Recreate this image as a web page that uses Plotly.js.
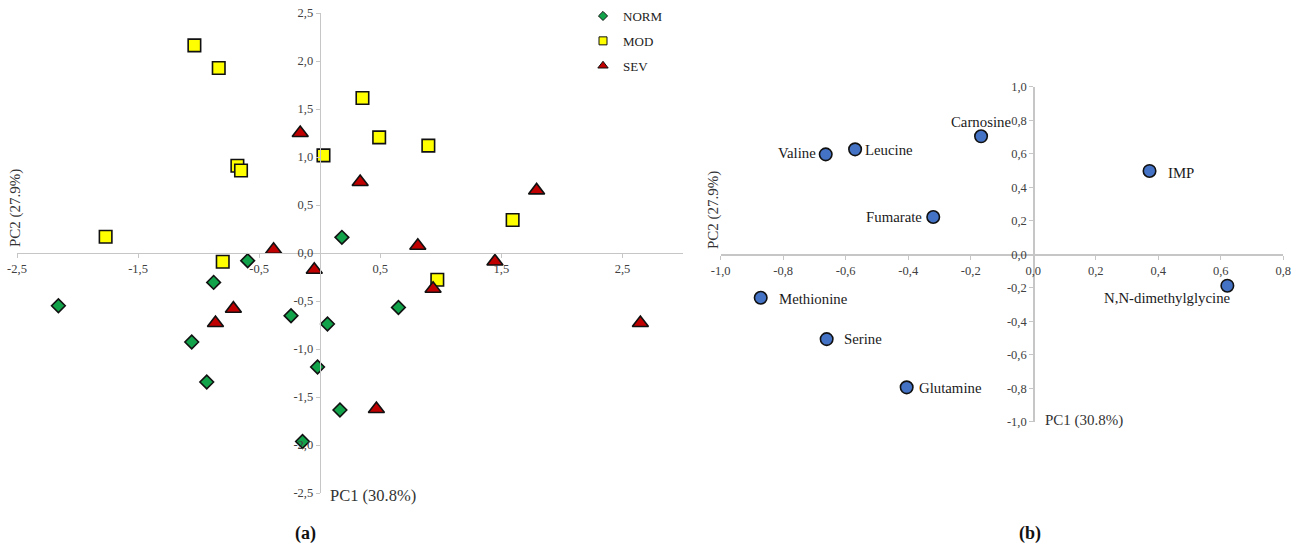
<!DOCTYPE html>
<html>
<head>
<meta charset="utf-8">
<script src="https://cdn.plot.ly/plotly-3.0.1.min.js"></script>
<style>
html,body{margin:0;padding:0;background:#fff;}
#chart{width:1298px;height:546px;}
</style>
</head>
<body>
<div id="chart"></div>
<script>
// ---------- Panel (a): PCA scores ----------
const normX = [0.183, -0.595, -0.876, -2.158, -0.237, 0.064, -1.057, -0.933, -0.018, 0.167, -0.142, 0.650];
const normY = [0.163, -0.080, -0.306, -0.549, -0.653, -0.740, -0.927, -1.344, -1.188, -1.635, -1.963, -0.567];

const modX = [-1.035, -0.834, -0.680, -0.650, -1.768, -0.801, 0.353, 0.491, 0.031, 0.897, 1.593, 0.971];
const modY = [2.163, 1.927, 0.909, 0.860, 0.170, -0.091, 1.615, 1.204, 1.017, 1.118, 0.344, -0.278];

const sevX = [-0.161, -0.381, 0.334, 1.791, 0.810, 1.447, -0.045, -0.713, -0.861, 0.936, 2.648, 0.468];
const sevY = [1.250, 0.034, 0.740, 0.652, 0.076, -0.088, -0.174, -0.580, -0.729, -0.372, -0.729, -1.625];

const groupNames = ['NORM', 'MOD', 'SEV'];

// ---------- Panel (b): loadings ----------
const metNames = ['Valine', 'Leucine', 'Carnosine', 'Fumarate', 'IMP', 'Methionine', 'Serine', 'Glutamine', 'N,N-dimethylglycine'];
const metX = [-0.664, -0.570, -0.167, -0.320, 0.372, -0.872, -0.661, -0.405, 0.621];
const metY = [0.596, 0.626, 0.704, 0.222, 0.497, -0.260, -0.507, -0.795, -0.188];

// ---------- Tick labels ----------
const aXTicks = [-2.5, -1.5, -0.5, 0.5, 1.5, 2.5];
const aXTickText = ['-2,5', '-1,5', '-0,5', '0,5', '1,5', '2,5'];
const aYTicks = [-2.5, -2.0, -1.5, -1.0, -0.5, 0.0, 0.5, 1.0, 1.5, 2.0, 2.5];
const aYTickText = ['-2,5', '-2,0', '-1,5', '-1,0', '-0,5', '0,0', '0,5', '1,0', '1,5', '2,0', '2,5'];
const bXTicks = [-1.0, -0.8, -0.6, -0.4, -0.2, 0.0, 0.2, 0.4, 0.6, 0.8];
const bXTickText = ['-1,0', '-0,8', '-0,6', '-0,4', '-0,2', '0,0', '0,2', '0,4', '0,6', '0,8'];
const bYTicks = [-1.0, -0.8, -0.6, -0.4, -0.2, 0.0, 0.2, 0.4, 0.6, 0.8, 1.0];
const bYTickText = ['-1,0', '-0,8', '-0,6', '-0,4', '-0,2', '0,0', '0,2', '0,4', '0,6', '0,8', '1,0'];

const axisTitleX = 'PC1 (30.8%)';
const axisTitleY = 'PC2 (27.9%)';

// ---------- Styling ----------
const W = 1298, H = 546;
const FONT = "'Liberation Serif', 'Times New Roman', serif";
const green = '#12A34A', yellow = '#FFFF00', red = '#C00000', blue = '#4472C4';
const lineCol = '#c6c6c6', tickTxt = '#404040';

const aXRange = [-2.5, 3.0], aYRange = [-2.5, 2.5];
const bXRange = [-1.0, 0.8], bYRange = [-1.0, 1.0];
const aXDom = [17 / W, 683 / W], aYDom = [1 - 493 / H, 1 - 13 / H];
const bXDom = [720.7 / W, 1283.3 / W], bYDom = [1 - 421.7 / H, 1 - 86.7 / H];

// label placement style for panel (b): anchor and pixel offsets from each marker
const labAnchor = ['right', 'left', 'center', 'right', 'left', 'left', 'left', 'left', 'right'];
const labDX = [-8, 8, 0, -9, 16, 16, 15, 10, 6];
const labDY = [1, -1, 14, 0, -2, -1, 0, -1, -12];

function zeroPos(range, dom) {
  return dom[0] + (0 - range[0]) / (range[1] - range[0]) * (dom[1] - dom[0]);
}

function axis(range, dom, pos, tv, tt) {
  return {
    range: range, domain: dom, anchor: 'free', position: pos,
    tickmode: 'array', tickvals: tv, ticktext: tt,
    showgrid: false, zeroline: false, showline: true,
    linecolor: lineCol, linewidth: 1.3,
    ticks: 'outside', ticklen: 4, tickcolor: lineCol, tickwidth: 1,
    tickfont: {family: FONT, size: 12.5, color: tickTxt},
    automargin: false, fixedrange: true
  };
}

const mline = {color: '#111', width: 1.6};

const traces = [
  {x: normX, y: normY, type: 'scatter', mode: 'markers', xaxis: 'x', yaxis: 'y', showlegend: false,
   marker: {symbol: 'diamond', size: 10.5, color: green, line: mline}},
  {x: modX, y: modY, type: 'scatter', mode: 'markers', xaxis: 'x', yaxis: 'y', showlegend: false,
   marker: {symbol: 'square', size: 12.5, color: yellow, line: mline}},
  {x: sevX, y: sevY, type: 'scatter', mode: 'markers', xaxis: 'x', yaxis: 'y', showlegend: false,
   marker: {symbol: 'triangle-up', size: 14, color: red, line: mline}},
  // legend entries (small symbols as in the original)
  {x: [null], y: [null], type: 'scatter', mode: 'markers', xaxis: 'x', yaxis: 'y', name: groupNames[0], legendgroup: 'g1',
   marker: {symbol: 'diamond', size: 7, color: green, line: {color: '#111', width: 1}}},
  {x: [null], y: [null], type: 'scatter', mode: 'markers', xaxis: 'x', yaxis: 'y', name: groupNames[1], legendgroup: 'g2',
   marker: {symbol: 'square', size: 8, color: yellow, line: {color: '#111', width: 1}}},
  {x: [null], y: [null], type: 'scatter', mode: 'markers', xaxis: 'x', yaxis: 'y', name: groupNames[2], legendgroup: 'g3',
   marker: {symbol: 'triangle-up', size: 9, color: red, line: {color: '#111', width: 1}}},
  {x: metX, y: metY, type: 'scatter', mode: 'markers', xaxis: 'x2', yaxis: 'y2', showlegend: false,
   marker: {symbol: 'circle', size: 12.5, color: blue, line: mline}}
];

const labelAnns = metNames.map((name, i) => ({
  text: name, x: metX[i], y: metY[i], xref: 'x2', yref: 'y2',
  xanchor: labAnchor[i], yanchor: 'middle', xshift: labDX[i], yshift: labDY[i],
  showarrow: false, font: {family: FONT, size: 14.8, color: '#1a1a1a'}
}));

const layout = {
  width: W, height: H,
  margin: {l: 0, r: 0, t: 0, b: 0, pad: 0},
  paper_bgcolor: '#ffffff', plot_bgcolor: 'rgba(0,0,0,0)',
  font: {family: FONT, color: '#222'},
  showlegend: true,
  legend: {x: 583 / W, y: 1 - 1 / H, xanchor: 'left', yanchor: 'top',
           font: {family: FONT, size: 13, color: '#222'}, bgcolor: 'rgba(0,0,0,0)',
           tracegroupgap: 5, itemclick: false, itemdoubleclick: false},
  xaxis: axis(aXRange, aXDom, zeroPos(aYRange, aYDom), aXTicks, aXTickText),
  yaxis: axis(aYRange, aYDom, zeroPos(aXRange, aXDom), aYTicks, aYTickText),
  xaxis2: axis(bXRange, bXDom, zeroPos(bYRange, bYDom), bXTicks, bXTickText),
  yaxis2: axis(bYRange, bYDom, zeroPos(bXRange, bXDom), bYTicks, bYTickText),
  annotations: labelAnns.concat([
    {text: axisTitleX, xref: 'paper', yref: 'paper', x: 328 / W, y: 1 - 495 / H, xanchor: 'left', yanchor: 'middle',
     showarrow: false, font: {family: FONT, size: 16.5, color: '#333'}},
    {text: axisTitleY, xref: 'paper', yref: 'paper', x: 15 / W, y: 1 - 208 / H, xanchor: 'center', yanchor: 'middle',
     textangle: -90, showarrow: false, font: {family: FONT, size: 15, color: '#333'}},
    {text: axisTitleX, xref: 'paper', yref: 'paper', x: 1043 / W, y: 1 - 420 / H, xanchor: 'left', yanchor: 'middle',
     showarrow: false, font: {family: FONT, size: 15, color: '#333'}},
    {text: axisTitleY, xref: 'paper', yref: 'paper', x: 714 / W, y: 1 - 210 / H, xanchor: 'center', yanchor: 'middle',
     textangle: -90, showarrow: false, font: {family: FONT, size: 15, color: '#333'}},
    {text: '<b>(a)</b>', xref: 'paper', yref: 'paper', x: 305 / W, y: 1 - 533 / H, xanchor: 'center', yanchor: 'middle',
     showarrow: false, font: {family: FONT, size: 18, color: '#111'}},
    {text: '<b>(b)</b>', xref: 'paper', yref: 'paper', x: 1030 / W, y: 1 - 533 / H, xanchor: 'center', yanchor: 'middle',
     showarrow: false, font: {family: FONT, size: 18, color: '#111'}}
  ])
};

Plotly.newPlot('chart', traces, layout, {displayModeBar: false, staticPlot: true});
</script>
</body>
</html>
